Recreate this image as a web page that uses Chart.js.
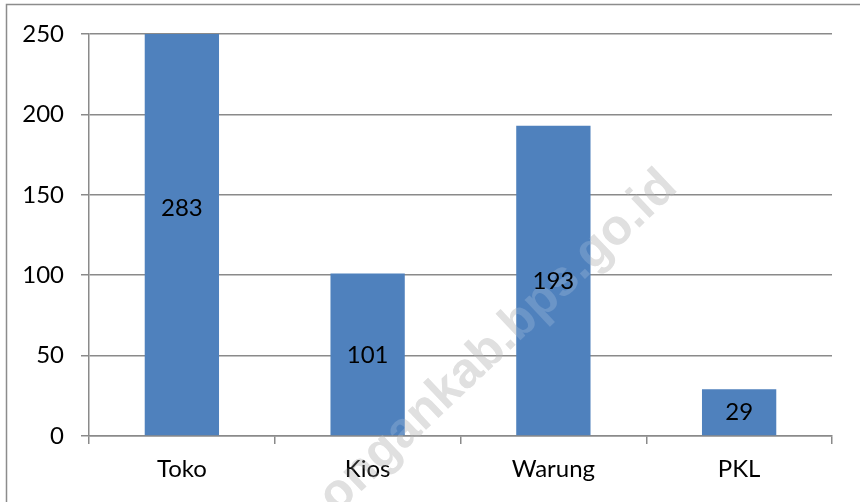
<!DOCTYPE html>
<html>
<head>
<meta charset="utf-8">
<script src="https://cdn.jsdelivr.net/npm/chart.js@4"></script>
<style>
  html, body { margin: 0; padding: 0; background: #ffffff; }
  #wrap { width: 860px; height: 502px; position: relative; }
</style>
</head>
<body>
<div id="wrap"><canvas id="c" width="860" height="502"></canvas></div>
<script>
const categories = ["Toko", "Kios", "Warung", "PKL"];
const values = [283, 101, 193, 29];
const yTicks = [0, 50, 100, 150, 200, 250];
const watermarkText = "ongankab.bps.go.id";

const FONT = "Lato, 'Open Sans', sans-serif";
const GRID = "#8a8a8a";

function drawWatermark(ctx, fill) {
  ctx.save();
  ctx.translate(508, 352);
  ctx.rotate(-43.5 * Math.PI / 180);
  ctx.font = "bold 50px 'Liberation Sans', Arial, sans-serif";
  const w = ctx.measureText(watermarkText).width;
  const size = 50 * 472 / w;
  ctx.font = "bold " + size.toFixed(2) + "px 'Liberation Sans', Arial, sans-serif";
  ctx.fillStyle = fill;
  ctx.textAlign = "center";
  ctx.textBaseline = "alphabetic";
  ctx.fillText(watermarkText, 0, 0);
  ctx.restore();
}

const frameAndLabels = {
  id: "frameAndLabels",
  beforeDraw(chart) {
    const ctx = chart.ctx;
    ctx.save();
    ctx.fillStyle = "#ffffff";
    ctx.fillRect(0, 0, chart.width, chart.height);
    ctx.strokeStyle = "#8c8c8c";
    ctx.lineWidth = 1.5;
    ctx.beginPath();
    ctx.moveTo(6.5, chart.height);
    ctx.lineTo(6.5, 4.5);
    ctx.lineTo(chart.width, 4.5);
    ctx.stroke();
    ctx.restore();
    drawWatermark(ctx, "#dadada");
  },
  afterDatasetsDraw(chart) {
    const ctx = chart.ctx;
    drawWatermark(ctx, "rgba(255,255,255,0.16)");
    const meta = chart.getDatasetMeta(0);
    const y = chart.scales.y;
    ctx.save();
    ctx.fillStyle = "#000000";
    ctx.font = "24px " + FONT;
    ctx.textAlign = "center";
    ctx.textBaseline = "middle";
    meta.data.forEach((bar, i) => {
      const v = values[i];
      ctx.fillText(String(v), bar.x, y.getPixelForValue(v / 2));
    });
    ctx.restore();
  }
};

new Chart(document.getElementById("c"), {
  type: "bar",
  data: {
    labels: categories,
    datasets: [{
      data: values,
      backgroundColor: "#4f81bd",
      borderWidth: 0,
      categoryPercentage: 0.8,
      barPercentage: 0.5
    }]
  },
  options: {
    responsive: false,
    animation: false,
    devicePixelRatio: 1,
    layout: { padding: { left: 0, top: 34, right: 28, bottom: 0 } },
    plugins: { legend: { display: false }, tooltip: { enabled: false } },
    scales: {
      x: {
        offset: true,
        grid: { display: true, drawOnChartArea: false, drawTicks: true, tickLength: 8, color: GRID, lineWidth: 1.5, offset: true },
        border: { display: true, color: GRID, width: 1.5 },
        ticks: { color: "#000000", font: { family: FONT, size: 24 }, padding: 11, maxRotation: 0 },
        afterFit(scale) { scale.height = 66; }
      },
      y: {
        min: 0,
        max: 250,
        afterBuildTicks(scale) { scale.ticks = yTicks.map(v => ({ value: v })); },
        grid: { color: GRID, lineWidth: 1.5, tickLength: 8 },
        border: { display: true, color: GRID, width: 1.5 },
        ticks: { color: "#000000", font: { family: FONT, size: 24 }, padding: 17 },
        afterFit(scale) { scale.width = 89; }
      }
    }
  },
  plugins: [frameAndLabels]
});
</script>
</body>
</html>
